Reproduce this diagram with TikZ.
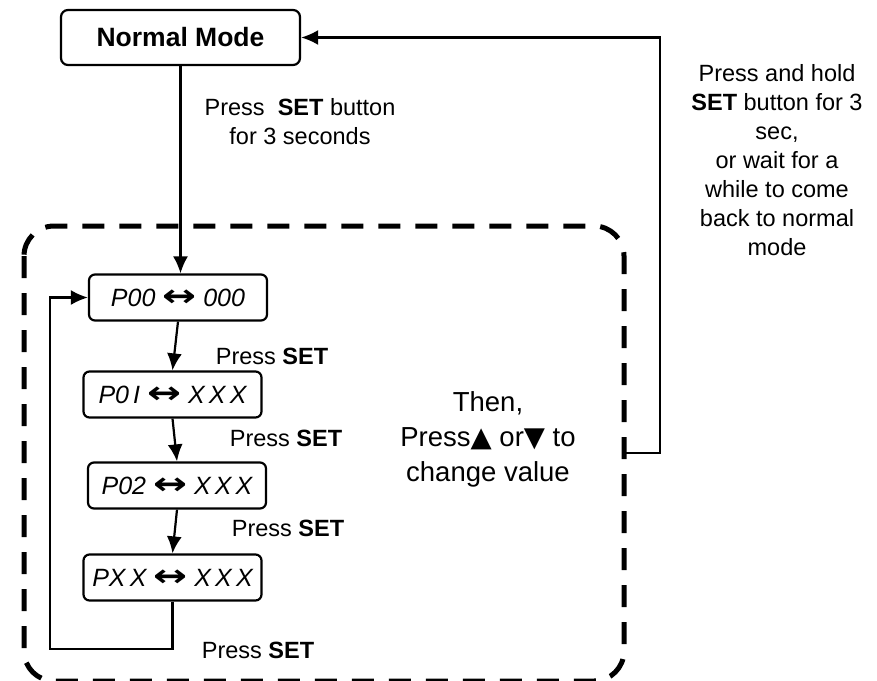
\documentclass[tikz,border=0pt]{standalone}
\usepackage{fontspec}
\setmainfont{Liberation Sans}
\newfontfamily\symfont{DejaVu Sans}
\usetikzlibrary{arrows.meta}
\newcommand{\lr}{\scalebox{1.45}[1.1]{\fontsize{28}{28}\selectfont\upshape\symfont\bfseries ↔}}
\begin{document}
\begin{tikzpicture}[x=1pt,y=-1pt,line width=2.2pt,
    modebox/.style={draw,rounded corners=7pt,minimum width=239pt,minimum height=55pt,
      font=\fontsize{26.5}{26.5}\selectfont\bfseries},
    parbox/.style={draw,rounded corners=6pt,minimum width=178pt,minimum height=46pt,
      inner sep=0pt,font=\fontsize{25}{25}\selectfont\itshape},
    note/.style={align=center,font=\fontsize{23.5}{29}\selectfont},
    flow/.style={draw,-{Latex[length=17pt,width=15pt]}}] % parameter setting menu
  \useasboundingbox (0,0) rectangle (877,680);
  \draw[line width=5pt,rounded corners=30pt,dash pattern=on 22pt off 15pt]
    (24,226) rectangle (624,681);
  \node[modebox] (normal) at (180.5,37.5) {Normal Mode};
  \node[parbox] (p00) at (178,297.5) {P00 \lr{} 000};
  \node[parbox] (p01) at (172.5,394.5) {P0\,I \lr{} X\,X\,X};
  \node[parbox] (p02) at (177,485.5) {P02 \lr{} X\,X\,X};
  \node[parbox] (pxx) at (172.5,577.5) {PX\,X \lr{} X\,X\,X};
  \coordinate (loopc) at (50,649);
  \coordinate (retA) at (625,453);
  \coordinate (retB) at (660,37.5);
  \path[flow] (normal.south) -- (normal.south |- p00.north);
  \path[flow] (p00.south) -- (p01.north);
  \path[flow] (p01.south) -- (p02.north);
  \path[flow] (p02.south) -- (pxx.north);
  \path[flow] (pxx.south) |- (loopc) |- (p00.west);
  \path[flow] (retA) -| (retB) -- (normal.east);
  \node[note] (entry) at (300,122) {Press\ \ \textbf{SET} button\\for 3 seconds};
  \node[note] (exit) at (777,160) {Press and hold\\\textbf{SET} button for 3\\sec,\\
    or wait for a\\while to come\\back to normal\\mode};
  \node[note] (set1) at (272,356) {Press \textbf{SET}};
  \node[note] (set2) at (286,438) {Press \textbf{SET}};
  \node[note] (set3) at (288,528) {Press \textbf{SET}};
  \node[note] (set4) at (258,650) {Press \textbf{SET}};
  \node[align=center,font=\fontsize{27.5}{35}\selectfont] (change) at (488,439)
    {Then,\\Press{\symfont▲} or{\symfont▼} to\\change value};
\end{tikzpicture}
\end{document}
